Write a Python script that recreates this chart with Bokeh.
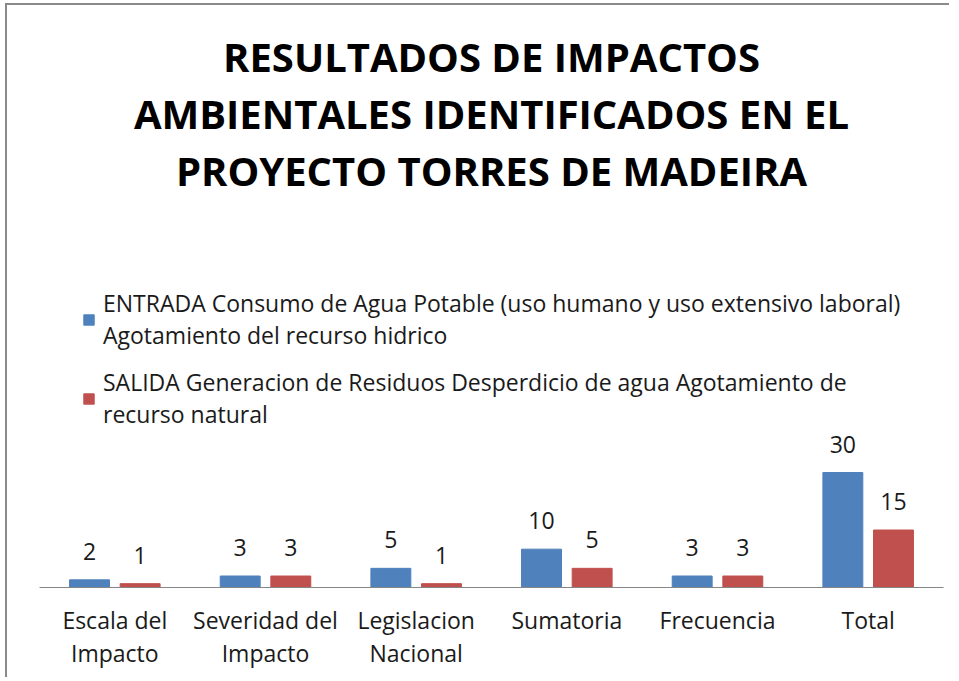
from bokeh.plotting import figure
from bokeh.models import ColumnDataSource, LabelSet, Legend, LegendItem, Range1d, Title
from bokeh.core.properties import value
from bokeh.transform import dodge
from bokeh.embed import file_html
from bokeh.resources import INLINE

categories = ["Escala del\nImpacto", "Severidad del\nImpacto", "Legislacion\nNacional",
              "Sumatoria", "Frecuencia", "Total"]
entrada = [2, 3, 5, 10, 3, 30]
salida = [1, 3, 1, 5, 3, 15]
series_names = [
    "ENTRADA Consumo de Agua Potable (uso humano y uso extensivo laboral)\nAgotamiento del recurso hidrico",
    "SALIDA Generacion de Residuos Desperdicio de agua Agotamiento de\nrecurso natural",
]
title_lines = ["RESULTADOS DE IMPACTOS", "AMBIENTALES IDENTIFICADOS EN EL",
               "PROYECTO TORRES DE MADEIRA"]

FONT = "Open Sans"
BLUE = "#4F81BD"
RED = "#C0504D"
TXT = "#1a1a1a"

src = ColumnDataSource(dict(cat=categories, entrada=entrada, salida=salida,
                            entrada_txt=[str(v) for v in entrada],
                            salida_txt=[str(v) for v in salida]))

p = figure(width=944, height=674, x_range=categories, y_range=Range1d(0, 101.74),
           output_backend="svg", toolbar_location=None, y_axis_location=None,
           min_border_left=32, min_border_right=8, min_border_bottom=92, min_border_top=192,
           title=None,
           styles={"border-top": "2px solid #8a8a8a", "border-left": "2px solid #8a8a8a",
                   "margin-left": "5px", "margin-top": "3px"})

# title lines, added from the one nearest the plot outward
for line in reversed(title_lines):
    p.add_layout(Title(text=line, align="center", text_font=FONT, text_font_size="40px",
                       text_font_style="bold", text_color="#000000", standoff=0), "above")

b = p.vbar(x=dodge("cat", -0.168, range=p.x_range), top="entrada", width=0.265,
           source=src, fill_color=BLUE, line_color=BLUE)
r = p.vbar(x=dodge("cat", 0.168, range=p.x_range), top="salida", width=0.265,
           source=src, fill_color=RED, line_color=RED)

for xo, col in ((-0.168, "entrada"), (0.168, "salida")):
    p.add_layout(LabelSet(x=dodge("cat", xo, range=p.x_range), y=col, text=col + "_txt",
                          source=src, text_align="center", text_baseline="alphabetic",
                          y_offset=20, text_font=value(FONT), text_font_size="23px",
                          text_color=TXT))

legend = Legend(items=[LegendItem(label=series_names[0], renderers=[b]),
                       LegendItem(label=series_names[1], renderers=[r])],
                location=(43, 157), orientation="vertical",
                label_text_font=FONT, label_text_font_size="23px", label_text_color=TXT,
                label_standoff=8,
                glyph_width=13, glyph_height=13, spacing=15, padding=0, margin=0,
                border_line_color=None, background_fill_alpha=0)
p.add_layout(legend)

p.xaxis.axis_line_color = "#868686"
p.xaxis.major_tick_line_color = None
p.xaxis.minor_tick_line_color = None
p.xaxis.major_label_text_font = FONT
p.xaxis.major_label_text_font_size = "23px"
p.xaxis.major_label_text_color = TXT
p.xaxis.major_label_text_line_height = 1.05
p.xaxis.major_label_standoff = 10
p.xgrid.grid_line_color = None
p.ygrid.grid_line_color = None
p.outline_line_color = None
p.x_range.range_padding = 0

open("out.html", "w").write(file_html(p, INLINE))
